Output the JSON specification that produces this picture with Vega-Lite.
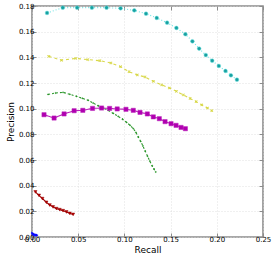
{
  "$schema": "https://vega.github.io/schema/vega-lite/v6.json",
  "width": 231,
  "height": 231,
  "autosize": "none",
  "padding": {"left": 32, "top": 6, "right": 11, "bottom": 25},
  "background": "white",
  "config": {
    "font": "DejaVu Sans",
    "view": {"stroke": "#8c8c8c", "strokeWidth": 1.6},
    "axis": {
      "labelFont": "DejaVu Sans", "titleFont": "DejaVu Sans",
      "labelFontSize": 7, "titleFontSize": 9, "titleFontWeight": "normal",
      "labelColor": "black", "titleColor": "black",
      "domain": false, "tickColor": "#8c8c8c", "tickSize": -4, "tickWidth": 1,
      "gridColor": "#d8d8d8", "gridDash": [1, 2], "gridWidth": 0.8
    }
  },
  "data": {"values": [
    {"s":"c","r":0.0163,"p":0.1746},{"s":"c","r":0.0333,"p":0.1787},{"s":"c","r":0.0488,"p":0.1787},{"s":"c","r":0.0648,"p":0.1787},{"s":"c","r":0.0807,"p":0.1787},{"s":"c","r":0.0959,"p":0.1782},{"s":"c","r":0.1107,"p":0.1766},{"s":"c","r":0.1234,"p":0.1740},{"s":"c","r":0.135,"p":0.1707},{"s":"c","r":0.1462,"p":0.167},{"s":"c","r":0.1563,"p":0.1629},{"s":"c","r":0.166,"p":0.158},{"s":"c","r":0.1736,"p":0.1525},{"s":"c","r":0.1809,"p":0.1468},{"s":"c","r":0.1881,"p":0.1418},{"s":"c","r":0.195,"p":0.1374},{"s":"c","r":0.2022,"p":0.1333},{"s":"c","r":0.2094,"p":0.1294},{"s":"c","r":0.2153,"p":0.126},{"s":"c","r":0.2218,"p":0.1226},
    {"s":"y","r":0.0181,"p":0.1408},{"s":"y","r":0.0319,"p":0.1377},{"s":"y","r":0.0474,"p":0.1392},{"s":"y","r":0.0604,"p":0.1382},{"s":"y","r":0.0735,"p":0.1374},{"s":"y","r":0.0854,"p":0.1356},{"s":"y","r":0.0959,"p":0.1327},{"s":"y","r":0.105,"p":0.1288},{"s":"y","r":0.114,"p":0.1263},{"s":"y","r":0.1223,"p":0.1247},{"s":"y","r":0.1313,"p":0.1213},{"s":"y","r":0.1404,"p":0.1185},{"s":"y","r":0.1487,"p":0.1161},{"s":"y","r":0.1563,"p":0.1135},{"s":"y","r":0.1638,"p":0.1107},{"s":"y","r":0.1711,"p":0.108},{"s":"y","r":0.1776,"p":0.1055},{"s":"y","r":0.1838,"p":0.1029},{"s":"y","r":0.1899,"p":0.1005},{"s":"y","r":0.1946,"p":0.0984},
    {"s":"g","r":0.0174,"p":0.1111},{"s":"g","r":0.0255,"p":0.1122},{"s":"g","r":0.0336,"p":0.1127},{"s":"g","r":0.041,"p":0.1112},{"s":"g","r":0.0482,"p":0.1096},{"s":"g","r":0.0545,"p":0.1081},{"s":"g","r":0.0608,"p":0.1065},{"s":"g","r":0.0662,"p":0.1044},{"s":"g","r":0.0716,"p":0.1023},{"s":"g","r":0.077,"p":0.1005},{"s":"g","r":0.0825,"p":0.0987},{"s":"g","r":0.088,"p":0.0963},{"s":"g","r":0.0933,"p":0.094},{"s":"g","r":0.098,"p":0.0918},{"s":"g","r":0.1024,"p":0.0893},{"s":"g","r":0.1062,"p":0.087},{"s":"g","r":0.1096,"p":0.0845},{"s":"g","r":0.1125,"p":0.0815},{"s":"g","r":0.115,"p":0.078},{"s":"g","r":0.1176,"p":0.0745},{"s":"g","r":0.12,"p":0.071},{"s":"g","r":0.1225,"p":0.067},{"s":"g","r":0.125,"p":0.063},{"s":"g","r":0.1275,"p":0.0592},{"s":"g","r":0.13,"p":0.0555},{"s":"g","r":0.132,"p":0.053},{"s":"g","r":0.1339,"p":0.0507},
    {"s":"m","r":0.013,"p":0.0953},{"s":"m","r":0.0239,"p":0.0927},{"s":"m","r":0.0347,"p":0.0959},{"s":"m","r":0.0456,"p":0.0984},{"s":"m","r":0.055,"p":0.0987},{"s":"m","r":0.0655,"p":0.1002},{"s":"m","r":0.0753,"p":0.1005},{"s":"m","r":0.084,"p":0.1002},{"s":"m","r":0.0922,"p":0.0998},{"s":"m","r":0.1017,"p":0.0995},{"s":"m","r":0.1096,"p":0.0987},{"s":"m","r":0.1169,"p":0.0971},{"s":"m","r":0.1248,"p":0.0959},{"s":"m","r":0.1313,"p":0.0936},{"s":"m","r":0.1378,"p":0.0922},{"s":"m","r":0.144,"p":0.0899},{"s":"m","r":0.1505,"p":0.0883},{"s":"m","r":0.1559,"p":0.087},{"s":"m","r":0.1613,"p":0.0854},{"s":"m","r":0.166,"p":0.0844},
    {"s":"r","r":0.0037,"p":0.0351},{"s":"r","r":0.0076,"p":0.0324},{"s":"r","r":0.0113,"p":0.0299},{"s":"r","r":0.0156,"p":0.027},{"s":"r","r":0.0192,"p":0.0249},{"s":"r","r":0.0228,"p":0.0234},{"s":"r","r":0.0265,"p":0.0221},{"s":"r","r":0.03,"p":0.0213},{"s":"r","r":0.0336,"p":0.0205},{"s":"r","r":0.0373,"p":0.0195},{"s":"r","r":0.0409,"p":0.0184},{"s":"r","r":0.0445,"p":0.0176},
    {"s":"b","r":0.0005,"p":0.003},{"s":"b","r":0.0015,"p":0.0022},{"s":"b","r":0.0025,"p":0.0018},{"s":"b","r":0.0035,"p":0.0016},{"s":"b","r":0.0045,"p":0.0015},{"s":"b","r":0.0055,"p":0.0014}
  ]},
  "layer": [
    {
      "mark": {"type": "line", "strokeWidth": 1.1},
      "encoding": {
        "x": {"field": "r", "type": "quantitative", "scale": {"domain": [0, 0.25], "nice": false}, "axis": {"title": "Recall", "values": [0, 0.05, 0.1, 0.15, 0.2, 0.25], "format": ".2f", "labelPadding": 2, "titlePadding": 3, "labelFlush": false}},
        "y": {"field": "p", "type": "quantitative", "scale": {"domain": [0, 0.18], "nice": false}, "axis": {"title": "Precision", "values": [0, 0.02, 0.04, 0.06, 0.08, 0.1, 0.12, 0.14, 0.16, 0.18], "format": ".2f", "labelPadding": 2, "titlePadding": 3, "labelFlush": false}},
        "stroke": {"field": "s", "type": "nominal", "legend": null, "scale": {"domain": ["c","y","g","m","r","b"], "range": ["#6fe3e3","#d9d84a","#2a962a","#bb22bb","#9a0000","#1010ff"]}},
        "strokeDash": {"field": "s", "type": "nominal", "legend": null, "scale": {"domain": ["c","y","g","m","r","b"], "range": [[1,2],[3,3],[2,2],[1,0],[1,0],[1,0]]}}
      }
    },
    {
      "mark": {"type": "point", "filled": true, "opacity": 1, "strokeWidth": 0.5},
      "encoding": {
        "x": {"field": "r", "type": "quantitative", "axis": null},
        "y": {"field": "p", "type": "quantitative", "axis": null},
        "color": {"field": "s", "type": "nominal", "legend": null, "scale": {"domain": ["c","y","g","m","r","b"], "range": ["#18a0a0","#d0d030","#1a8a1a","#b000b0","#b00000","#0000ff"]}},
        "stroke": {"field": "s", "type": "nominal", "legend": null, "scale": {"domain": ["c","y","g","m","r","b"], "range": ["#225555","#a8a818","#1a8a1a","#555555","#400000","#0000ff"]}},
        "shape": {"field": "s", "type": "nominal", "legend": null, "scale": {"domain": ["c","y","g","m","r","b"], "range": ["circle","M-0.35,-0.5L0,-0.15L0.35,-0.5L0.5,-0.35L0.15,0L0.5,0.35L0.35,0.5L0,0.15L-0.35,0.5L-0.5,0.35L-0.15,0L-0.5,-0.35Z","circle","square","triangle-down","triangle-right"]}},
        "size": {"field": "s", "type": "nominal", "legend": null, "scale": {"type": "ordinal", "domain": ["c","y","g","m","r","b"], "range": [14, 24, 1.5, 18, 10, 6]}}
      }
    },
    {
      "mark": {"type": "point", "opacity": 0},
      "encoding": {
        "x": {"field": "r", "type": "quantitative", "axis": {"orient": "top", "labels": false, "title": null, "grid": false, "values": [0, 0.05, 0.1, 0.15, 0.2, 0.25]}},
        "y": {"field": "p", "type": "quantitative", "axis": {"orient": "right", "labels": false, "title": null, "grid": false, "values": [0, 0.02, 0.04, 0.06, 0.08, 0.1, 0.12, 0.14, 0.16, 0.18]}}
      }
    }
  ],
  "resolve": {"axis": {"x": "independent", "y": "independent"}}
}
